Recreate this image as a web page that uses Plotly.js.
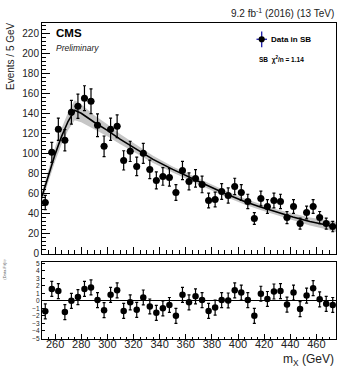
<!DOCTYPE html>
<html>
<head>
<meta charset="utf-8">
<script src="https://cdn.plot.ly/plotly-3.0.1.min.js"></script>
<style>html,body{margin:0;padding:0;background:#fff;}#chart{width:338px;height:369px;}</style>
</head>
<body>
<div id="chart"></div>
<script>
// Bin centres (GeV)
const binCenters = [252.5,257.5,262.5,267.5,272.5,277.5,282.5,287.5,292.5,297.5,302.5,307.5,312.5,317.5,322.5,327.5,332.5,337.5,342.5,347.5,352.5,357.5,362.5,367.5,372.5,377.5,382.5,387.5,392.5,397.5,402.5,407.5,412.5,417.5,422.5,427.5,432.5,437.5,442.5,447.5,452.5,457.5,462.5,467.5,472.5];
// Data in SB (events / 5 GeV)
const dataCounts = [51,101,124,113,141,147,155,152,128,107,124,127,93,102,87,100,84,73,77,76,61,83,72,75,69,53,54,62,58,67,61,52,35,55,47,53,52,36,47,30,41,47,36,30,27];
const dataErrors = [7.1,10,11.1,10.6,11.9,12.1,12.4,12.3,11.3,10.3,11.1,11.3,9.6,10.1,9.3,10,9.2,8.5,8.8,8.7,7.8,9.1,8.5,8.7,8.3,7.3,7.3,7.9,7.6,8.2,7.8,7.2,5.9,7.4,6.9,7.3,7.2,6,6.9,5.5,6.4,6.9,6,5.5,5.2];
// Fit curve and its uncertainty band
const fitX  = [250,255,260,265,270,275,280,290,300,310,320,335,350,362,375,390,405,416,430,442,455,465,475];
const fitY  = [57,78,99,117,132,143,140,131,123,114,106,94,84,76.5,69,60,52,47,41,36.5,32,29.5,26.6];
const bandHi = [62,84,106,125,141,153,149,138,129,119,110.5,97.5,87,79.5,72,63,55,50,44,40,36,34,31.6];
const bandLo = [52,72,92,109,123,133,131,124,117,109,101.5,90.5,81,73.5,66,57,49,44,38,33,28,25,21.6];
// Pulls (lower panel)
const pulls = [-1.4,1.6,1.3,-1.5,0,0.5,1.6,1.8,0.1,-1.25,0.8,1.4,-1.35,-0.2,-1.2,0.45,-0.75,-1.6,-1.0,-0.55,-2.0,0.8,-0.2,0.6,0.1,-1.35,-0.9,0.1,0.05,1.4,1.1,0.1,-2.0,0.95,0.25,1.25,1.3,-0.5,1.1,-1.1,0.7,1.7,0.2,-0.4,-0.55];
const xTickVals = [260,280,300,320,340,360,380,400,420,440,460];
const yTickVals = [0,20,40,60,80,100,120,140,160,180,200,220];
const pullTickVals = [-5,-4,-3,-2,-1,0,1,2,3,4,5];

const FONT = 'Liberation Sans, Arial, Helvetica, sans-serif';

const traces = [
  {x: fitX, y: bandHi, type:'scatter', mode:'lines', line:{width:0, color:'rgba(0,0,0,0)'}, hoverinfo:'skip', xaxis:'x', yaxis:'y', showlegend:false},
  {x: fitX, y: bandLo, type:'scatter', mode:'lines', line:{width:0, color:'rgba(0,0,0,0)'}, fill:'tonexty', fillcolor:'rgba(160,160,160,0.6)', hoverinfo:'skip', xaxis:'x', yaxis:'y', showlegend:false},
  {x: fitX, y: fitY, type:'scatter', mode:'lines', line:{width:1.6, color:'#000'}, xaxis:'x', yaxis:'y', showlegend:false},
  {x: binCenters, y: dataCounts, type:'scatter', mode:'markers',
   marker:{color:'#000', size:7, symbol:'circle'},
   error_y:{type:'data', array: dataErrors, visible:true, color:'#000', thickness:1.2, width:1.5},
   error_x:{type:'constant', value:2.5, visible:true, color:'#000', thickness:1.5, width:0},
   xaxis:'x', yaxis:'y', showlegend:false},
  {x: binCenters, y: pulls, type:'scatter', mode:'markers',
   marker:{color:'#000', size:6.5, symbol:'circle'},
   error_y:{type:'constant', value:1, visible:true, color:'#000', thickness:1.2, width:1.5},
   xaxis:'x2', yaxis:'y2', showlegend:false}
];

const H = 369, W = 338, mL = 42, mR = 2, mT = 23, mB = 29.5;
const pw = W - mL - mR, ph = H - mT - mB;
const px = v => (v - mL) / pw;
const py = v => (H - mB - v) / ph;

const axisCommon = {
  showline:true, linecolor:'#000', linewidth:1, mirror:true, showgrid:false, zeroline:false,
  ticks:'inside', tickcolor:'#000', tickwidth:1,
  tickfont:{family:FONT, size:10, color:'#222'}
};

const layout = {
  width: W, height: H,
  margin:{l:mL, r:mR, t:mT, b:mB, pad:0},
  paper_bgcolor:'#fff', plot_bgcolor:'#fff',
  showlegend:false,
  font:{family:FONT, color:'#222'},
  xaxis: Object.assign({}, axisCommon, {
    domain:[0,1], anchor:'y', range:[250,475],
    tickmode:'array', tickvals:xTickVals, showticklabels:false, ticklen:7,
    minor:{dtick:5, tick0:250, ticks:'inside', ticklen:3.5, tickcolor:'#000'}
  }),
  yaxis: Object.assign({}, axisCommon, {
    domain:[py(254), 1], anchor:'x', range:[0,230],
    tickmode:'array', tickvals:yTickVals, ticklen:8,
    minor:{dtick:4, tick0:0, ticks:'inside', ticklen:4, tickcolor:'#000'}
  }),
  xaxis2: Object.assign({}, axisCommon, {
    domain:[0,1], anchor:'y2', range:[250,475], matches:'x',
    tickmode:'array', tickvals:xTickVals, ticklen:5, ticklabelstandoff:-5,
    tickfont:{family:FONT, size:11, color:'#222'},
    minor:{dtick:5, tick0:250, ticks:'inside', ticklen:2.5, tickcolor:'#000'}
  }),
  yaxis2: Object.assign({}, axisCommon, {
    domain:[0, py(262.7)], anchor:'x2', range:[-5.1,5.15],
    tickmode:'array', tickvals:pullTickVals, ticklen:3,
    tickfont:{family:FONT, size:6.5, color:'#222'},
    zeroline:true, zerolinecolor:'#000', zerolinewidth:1.2
  }),
  annotations: [
    {text:'9.2 fb<sup>-1</sup> (2016) (13 TeV)', xref:'paper', yref:'paper', x:1, y:py(13), xanchor:'right', yanchor:'middle', showarrow:false, font:{family:FONT, size:10, color:'#222'}},
    {text:'<b>CMS</b>', xref:'paper', yref:'paper', x:px(54), y:py(33), xanchor:'left', yanchor:'middle', showarrow:false, font:{family:FONT, size:11.5, color:'#000'}},
    {text:'<i>Preliminary</i>', xref:'paper', yref:'paper', x:px(54), y:py(48), xanchor:'left', yanchor:'middle', showarrow:false, font:{family:FONT, size:8.5, color:'#222'}},
    {text:'<b>Data in SB</b>', xref:'paper', yref:'paper', x:px(269), y:py(39.3), xanchor:'left', yanchor:'middle', showarrow:false, font:{family:FONT, size:8, color:'#000'}},
    {text:'<b>SB  χ<sup>2</sup>/n = 1.14</b>', xref:'paper', yref:'paper', x:px(257), y:py(60), xanchor:'left', yanchor:'middle', showarrow:false, font:{family:FONT, size:6.5, color:'#000'}},
    {text:'Events / 5 GeV', xref:'paper', yref:'paper', x:px(10), y:py(20), xanchor:'center', yanchor:'top', textangle:-90, showarrow:false, font:{family:FONT, size:10, color:'#222'}},
    {text:'(Data-Fit)/σ', xref:'paper', yref:'paper', x:px(4.5), y:py(257), xanchor:'center', yanchor:'top', textangle:-90, showarrow:false, font:{family:FONT, size:4, color:'#666'}},
    {text:'m<sub>X</sub> (GeV)', xref:'paper', yref:'paper', x:1, y:py(361), xanchor:'right', yanchor:'middle', showarrow:false, font:{family:FONT, size:12, color:'#222'}}
  ],
  shapes: [
    {type:'line', xref:'paper', yref:'paper', x0:px(261.7), x1:px(261.7), y0:py(31.5), y1:py(47.3), line:{color:'#1a1aa8', width:1.3}},
    {type:'line', xref:'paper', yref:'paper', x0:px(256.5), x1:px(267), y0:py(39.3), y1:py(39.3), line:{color:'#1a1aa8', width:1.3}},
    {type:'circle', xref:'paper', yref:'paper', x0:px(258.6), x1:px(264.8), y0:py(36.2), y1:py(42.4), fillcolor:'#000', line:{color:'#000', width:0}}
  ]
};

Plotly.newPlot('chart', traces, layout, {staticPlot:true, displayModeBar:false});
</script>
</body>
</html>
